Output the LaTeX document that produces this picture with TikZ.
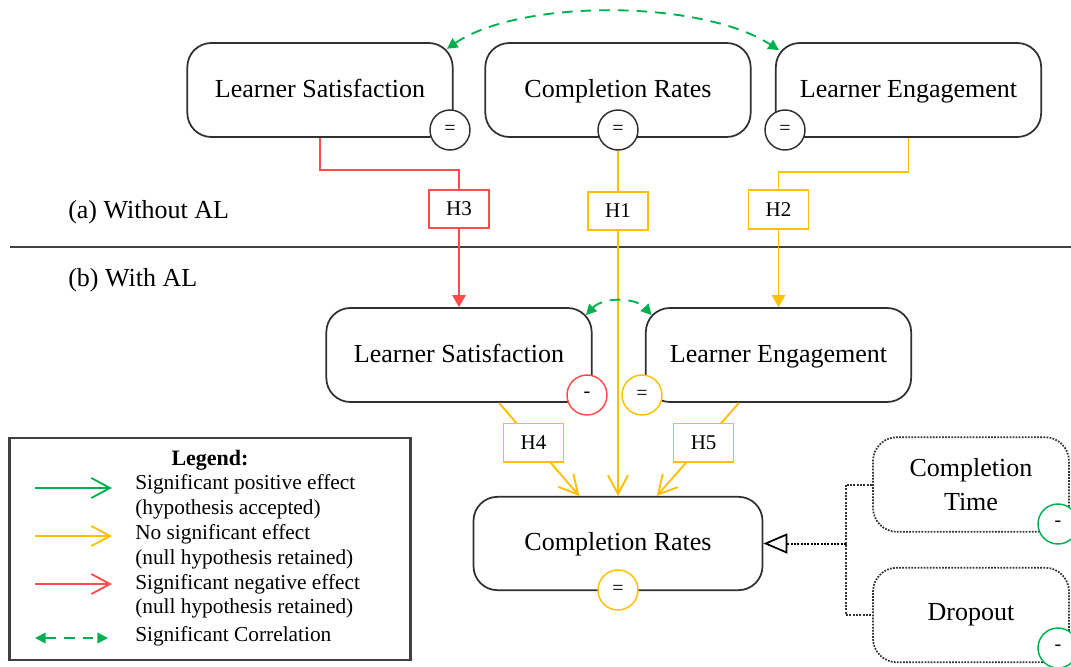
\documentclass[tikz,border=0pt]{standalone}
\usepackage{fontspec}
\setmainfont{Liberation Serif}
\usetikzlibrary{arrows.meta}
\definecolor{okgreen}{HTML}{00B050}
\definecolor{nsyellow}{HTML}{FFC000}
\definecolor{negred}{HTML}{FF4B4B}
\definecolor{edge}{HTML}{303030}

\begin{document}
\begin{tikzpicture}[x=0.75pt,y=-0.75pt,
  var/.style={draw=edge, line width=1.3pt, rounded corners=18pt, fill=white,
    minimum width=199pt, minimum height=70.5pt, inner sep=2pt,
    text height=1.1em, text depth=0em,
    font=\fontsize{19.5}{23}\selectfont},
  subvar/.style={var, densely dotted, draw=black!80, line width=1.3pt,
    minimum width=147pt, minimum height=71pt, align=center,
    text height=, text depth=},
  sign/.style={circle, draw=edge, line width=1.1pt, fill=white, text=black,
    minimum size=30pt, inner sep=0pt, font=\fontsize{15}{15}\selectfont},
  hyp/.style={draw, line width=1.3pt, fill=white, text=black, minimum width=45pt,
    minimum height=29pt, inner sep=0pt, font=\fontsize{15.75}{16}\selectfont},
  link/.style={line width=1.4pt},
  solidtip/.style={-{Triangle[length=9pt,width=10pt]}},
  opentip/.style={-{Straight Barb[length=14pt,width=15pt]}},
  corr/.style={okgreen, line width=1.4pt, dash pattern=on 8pt off 6pt,
    {Triangle[length=8pt,width=8pt]}-{Triangle[length=8pt,width=8pt]}},
  dotlink/.style={densely dotted, draw=black!80, line width=1.5pt},
  legtext/.style={anchor=west, inner sep=0pt, text height=0.72em,
    text depth=0.22em, font=\fontsize{16}{18}\selectfont},
  paneltitle/.style={anchor=west, inner sep=0pt, font=\fontsize{19.5}{22}\selectfont},
]
\useasboundingbox (0,0) rectangle (1071,667);

% panel separator and titles
\draw[line width=0.8pt, black!75] (10,247) -- (1071,247);
\node[paneltitle] (ta) at (68,212) {(a) Without AL};
\node[paneltitle] (tb) at (68,280) {(b) With AL};

% (a) constructs without AL
\node[var] (lsA) at (320,90) {Learner Satisfaction};
\node[var] (crA) at (618,90) {Completion Rates};
\node[var] (leA) at (908.5,90) {Learner Engagement};
\node[sign] (sLSA) at (450,130) {=};
\node[sign] (sCRA) at (618,130) {=};
\node[sign] (sLEA) at (785,130) {=};

% (b) constructs with AL
\node[var] (lsB) at (459,355) {Learner Satisfaction};
\node[var] (leB) at (778.5,355) {Learner Engagement};
\node[var, minimum width=216.75pt, minimum height=70pt] (crB) at (618,543.5) {Completion Rates};
\node[sign, draw=negred] (sLSB) at (587,395) {-};
\node[sign, draw=nsyellow] (sLEB) at (642,395) {=};
\node[sign, draw=nsyellow] (sCRB) at (618,590) {=};

% components of completion rates
\node[subvar] (ct) at (971,484.5) {Completion\\[2pt]Time};
\node[subvar] (dp) at (971,615) {Dropout};
\node[sign, draw=okgreen] (sCT) at (1058,524) {-};
\node[sign, draw=okgreen] (sDP) at (1058,648) {-};

% hypothesis labels on the vertical links
\node[hyp, draw=negred] (h3) at (459,209) {H3};
\node[hyp, draw=nsyellow] (h1) at (618,211) {H1};
\node[hyp, draw=nsyellow] (h2) at (778.5,209.5) {H2};

% H3: satisfaction, negative
\coordinate (rb) at (459,170);
\draw[link, negred] (lsA.south) |- (rb) -- (h3.north);
\draw[link, negred, solidtip] (h3.south) -- (lsB.north);

% H1: completion rates, no effect
\draw[link, nsyellow] (sCRA.south) -- (h1.north);
\draw[link, nsyellow, opentip] (h1.south) -- (crB.north);

% H2: engagement, no effect
\coordinate (yb) at (778.5,172);
\draw[link, nsyellow] (leA.south) |- (yb) -- (h2.north);
\draw[link, nsyellow, solidtip] (h2.south) -- (leB.north);

% H4 and H5: mediators to completion rates
\draw[link, nsyellow, opentip] ([xshift=30pt]lsB.south) --
  node[pos=0.43, hyp, draw=nsyellow] (h4) {H4} ([xshift=-29pt]crB.north);
\draw[link, nsyellow, opentip] ([xshift=-29.6pt]leB.south) --
  node[pos=0.43, hyp, draw=nsyellow] (h5) {H5} ([xshift=29pt]crB.north);

% correlations
\draw[corr] ([xshift=-5pt,yshift=-5pt]lsA.north east)
  .. controls (520,-1) and (700,-1) .. ([xshift=3pt,yshift=-6pt]leA.north west);
\draw[corr] ([xshift=-5pt,yshift=-6pt]lsB.north east)
  .. controls (603,297) and (635,297) .. ([xshift=5pt,yshift=-6pt]leB.north west);

% composition of completion rates
\coordinate (dj) at (846,543.5);
\draw[dotlink] (ct.west) -| (dj) |- (dp.west);
\draw[dotlink, -{Triangle[open,length=18pt,width=15pt,line width=1.3pt]}, black] (dj) -- (crB.east);

% legend
\node[draw=black!75, line width=1.6pt, minimum width=300.75pt, minimum height=166.5pt, inner sep=0pt] (leg) at (210,549) {};
\node[font=\fontsize{16.5}{18}\selectfont\bfseries, inner sep=0pt] (legt) at (210,460) {Legend:};
\coordinate (g1a) at (35,488);  \coordinate (g1b) at (112,488);
\coordinate (g2a) at (35,536);  \coordinate (g2b) at (112,536);
\coordinate (g3a) at (35,584);  \coordinate (g3b) at (112,584);
\coordinate (g4a) at (35,638);  \coordinate (g4b) at (108,638);
\draw[link, okgreen, opentip] (g1a) -- (g1b);
\draw[link, nsyellow, opentip] (g2a) -- (g2b);
\draw[link, negred, opentip] (g3a) -- (g3b);
\draw[corr] (g4a) -- (g4b);
\node[legtext] (l1a) at (135,486) {Significant positive effect};
\node[legtext] (l1b) at (135,511) {(hypothesis accepted)};
\node[legtext] (l2a) at (135,536) {No significant effect};
\node[legtext] (l2b) at (135,561) {(null hypothesis retained)};
\node[legtext] (l3a) at (135,586) {Significant negative effect};
\node[legtext] (l3b) at (135,610) {(null hypothesis retained)};
\node[legtext] (l4a) at (135,638) {Significant Correlation};
\end{tikzpicture}
\end{document}
